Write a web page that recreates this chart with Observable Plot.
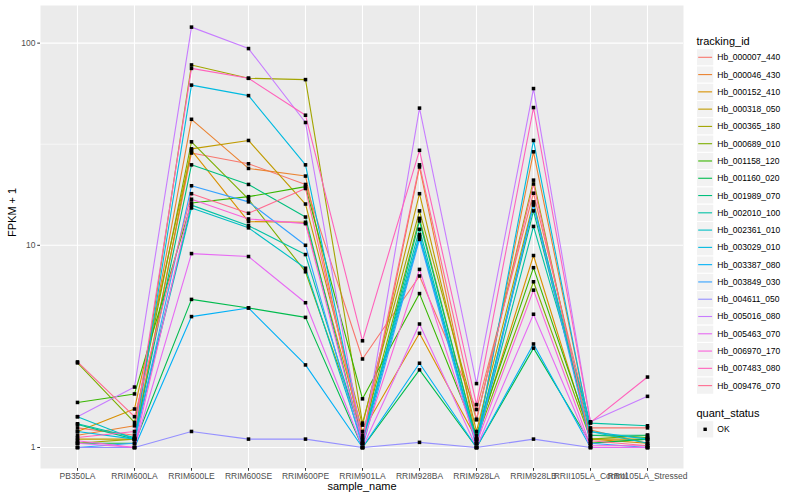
<!DOCTYPE html>
<html><head><meta charset="utf-8">
<script src="https://cdn.jsdelivr.net/npm/d3@7"></script>
<script src="https://cdn.jsdelivr.net/npm/@observablehq/plot@0.6"></script>
<style>
body{margin:0;background:#fff;font-family:"Liberation Sans",Arial,sans-serif;}
#wrap{position:relative;width:800px;height:500px;}
</style></head><body><div id="wrap"></div>
<script>
const samples = ["PB350LA","RRIM600LA","RRIM600LE","RRIM600SE","RRIM600PE","RRIM901LA","RRIM928BA","RRIM928LA","RRIM928LB","RRII105LA_Control","RRII105LA_Stressed"];
const trackingIds = ["Hb_000007_440","Hb_000046_430","Hb_000152_410","Hb_000318_050","Hb_000365_180","Hb_000689_010","Hb_001158_120","Hb_001160_020","Hb_001989_070","Hb_002010_100","Hb_002361_010","Hb_003029_010","Hb_003387_080","Hb_003849_030","Hb_004611_050","Hb_005016_080","Hb_005463_070","Hb_006970_170","Hb_007483_080","Hb_009476_070"];
const colors = ["#F8766D","#EA8331","#D89000","#C09B00","#A3A500","#7CAE00","#39B600","#00BB4E","#00BF7D","#00C1A3","#00BFC4","#00BAE0","#00B0F6","#35A2FF","#9590FF","#C77CFF","#E76BF3","#FA62DB","#FF62BC","#FF6C91"];
const quantStatus = ["OK"];
const yTicks = [1, 10, 100];
const yMinor = [3.1623, 31.623];

// FPKM + 1, one array per tracking_id, in the order of samples
const Hb_000007_440 = [1.25, 1.15, 28.6, 25.3, 20, 2.74, 7.05, 1.54, 18.1, 1.25, 1.25];
const Hb_000046_430 = [1.15, 1.28, 42, 24, 22, 1.05, 24.4, 1.1, 29, 1.22, 1.05];
const Hb_000152_410 = [1.2, 1.55, 29.5, 13.1, 13, 1.2, 3.67, 1.1, 8.9, 1.1, 1.05];
const Hb_000318_050 = [1.1, 1.1, 30, 33, 16, 1.29, 18, 1.2, 16.4, 1.1, 1.1];
const Hb_000365_180 = [1.05, 1.1, 78, 67, 66, 1.32, 14.8, 1.37, 21, 1.05, 1.1];
const Hb_000689_010 = [2.62, 1.33, 32.5, 16.9, 7.4, 1.15, 13.6, 1.1, 6.6, 1.1, 1.15];
const Hb_001158_120 = [1.67, 1.84, 16.2, 17.4, 19.5, 1.74, 5.77, 1.15, 7.75, 1.15, 1.12];
const Hb_001160_020 = [1.05, 1.05, 5.4, 4.9, 4.4, 1.0, 2.42, 1.0, 3.1, 1.05, 1.1];
const Hb_001989_070 = [1.3, 1.1, 25, 20, 13.8, 1.05, 13.2, 1.1, 14.8, 1.15, 1.15];
const Hb_002010_100 = [1.31, 1.12, 15.8, 12.5, 9.0, 1.1, 12, 1.05, 12.4, 1.32, 1.28];
const Hb_002361_010 = [1.42, 1.1, 15.3, 12.2, 7.7, 1.05, 11, 1.05, 16, 1.2, 1.05];
const Hb_003029_010 = [1.2, 1.1, 62, 55, 25, 1.1, 11.3, 1.05, 33, 1.2, 1.1];
const Hb_003387_080 = [1.0, 1.0, 4.44, 4.9, 2.56, 1.0, 2.61, 1.0, 3.25, 1.0, 1.0];
const Hb_003849_030 = [1.0, 1.05, 19.7, 16.4, 10, 1.0, 10.7, 1.0, 15.8, 1.05, 1.0];
const Hb_004611_050 = [1.0, 1.0, 1.2, 1.1, 1.1, 1.0, 1.06, 1.0, 1.1, 1.0, 1.0];
const Hb_005016_080 = [1.42, 1.99, 120, 94, 40.5, 1.05, 47.7, 2.07, 59.6, 1.34, 1.79];
const Hb_005463_070 = [1.05, 1.0, 9.1, 8.8, 5.2, 1.0, 4.08, 1.0, 4.56, 1.0, 1.0];
const Hb_006970_170 = [1.08, 1.0, 16.9, 13.5, 12.8, 1.05, 7.6, 1.05, 6.0, 1.02, 1.02];
const Hb_007483_080 = [1.12, 1.2, 75, 67, 44, 3.37, 29.5, 1.63, 48, 1.33, 2.23];
const Hb_009476_070 = [2.65, 1.42, 18, 14.4, 19.1, 1.12, 25, 1.38, 20.1, 1.08, 1.02];

const seriesValues = [Hb_000007_440,Hb_000046_430,Hb_000152_410,Hb_000318_050,Hb_000365_180,Hb_000689_010,Hb_001158_120,Hb_001160_020,Hb_001989_070,Hb_002010_100,Hb_002361_010,Hb_003029_010,Hb_003387_080,Hb_003849_030,Hb_004611_050,Hb_005016_080,Hb_005463_070,Hb_006970_170,Hb_007483_080,Hb_009476_070];

const data = [];
seriesValues.forEach((vals, i) => vals.forEach((v, j) => data.push({id: trackingIds[i], sample: samples[j], fpkm: v, status: quantStatus[0]})));

const FONT = "'Liberation Sans', Arial, Helvetica, sans-serif";
const plot = Plot.plot({
  width: 800, height: 500,
  marginLeft: 40, marginRight: 117, marginTop: 5, marginBottom: 32,
  style: {fontFamily: FONT, fontSize: "8.5px", background: "white", overflow: "visible"},
  x: {type: "point", domain: samples, padding: 0.6, label: null},
  y: {type: "log", domain: [0.787, 153.5], label: null},
  color: {domain: trackingIds, range: colors},
  marks: [
    Plot.frame({fill: "#EBEBEB", stroke: null}),
    Plot.ruleY(yMinor, {stroke: "white", strokeWidth: 0.55}),
    Plot.ruleY(yTicks, {stroke: "white", strokeWidth: 1.1}),
    Plot.ruleX(samples, {stroke: "white", strokeWidth: 1.1}),
    Plot.line(data, {x: "sample", y: "fpkm", z: "id", stroke: "id", strokeWidth: 1.1}),
    Plot.dot(data, {x: "sample", y: "fpkm", symbol: "square", r: 2, fill: "black", stroke: null}),
    Plot.axisX({tickSize: 2.75, tickPadding: 1.5, stroke: "#333333", fill: "#4D4D4D", fontSize: 8.5, label: null}),
    Plot.axisY({ticks: yTicks, tickFormat: d => String(d), tickSize: 2.75, tickPadding: 2.2, stroke: "#333333", fill: "#4D4D4D", fontSize: 8.5, label: null}),
    Plot.text(["sample_name"], {text: d => d, frameAnchor: "bottom", dy: 21, fontSize: 11, fill: "black"}),
    Plot.text(["FPKM + 1"], {text: d => d, frameAnchor: "left", dx: -28, rotate: -90, fontSize: 11, fill: "black"})
  ]
});
document.getElementById("wrap").appendChild(plot);

// legend (ggplot style), built with d3 into the same svg
const svg = d3.select(plot);
const lg = svg.append("g").attr("font-family", FONT).attr("text-anchor", "start");
const keyX = 696.5, keyW = 17.28, firstCenter = 57.3;
lg.append("text").attr("x", keyX).attr("y", 44.5).attr("text-anchor", "start").attr("font-size", 11).attr("fill", "black").text("tracking_id");
trackingIds.forEach((id, i) => {
  const cy = firstCenter + keyW * i;
  lg.append("rect").attr("x", keyX).attr("y", cy - keyW / 2).attr("width", keyW).attr("height", keyW)
    .attr("fill", "#F2F2F2").attr("stroke", "white").attr("stroke-width", 1);
  lg.append("line").attr("x1", keyX + 1.7).attr("x2", keyX + keyW - 1.7).attr("y1", cy).attr("y2", cy)
    .attr("stroke", colors[i]).attr("stroke-width", 1.1);
  lg.append("text").attr("x", keyX + keyW + 3.5).attr("y", cy).attr("dy", "0.35em").attr("text-anchor", "start")
    .attr("font-size", 8.5).attr("fill", "black").text(id);
});
lg.append("text").attr("x", keyX).attr("y", 416.5).attr("text-anchor", "start").attr("font-size", 11).attr("fill", "black").text("quant_status");
quantStatus.forEach((s, i) => {
  const cy = 429.3 + keyW * i;
  lg.append("rect").attr("x", keyX).attr("y", cy - keyW / 2).attr("width", keyW).attr("height", keyW)
    .attr("fill", "#F2F2F2").attr("stroke", "white").attr("stroke-width", 1);
  lg.append("rect").attr("x", keyX + keyW / 2 - 1.7).attr("y", cy - 1.7).attr("width", 3.4).attr("height", 3.4).attr("fill", "black");
  lg.append("text").attr("x", keyX + keyW + 3.5).attr("y", cy).attr("dy", "0.35em").attr("text-anchor", "start")
    .attr("font-size", 8.5).attr("fill", "black").text(s);
});
</script></body></html>
